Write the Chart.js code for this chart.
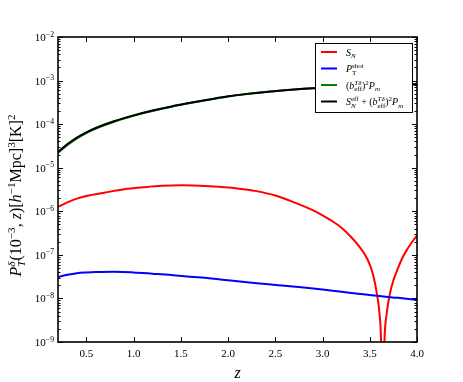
<!DOCTYPE html>
<html>
<head>
<meta charset="utf-8">
<script src="https://cdn.jsdelivr.net/npm/chart.js@4.4.0/dist/chart.umd.min.js"></script>
<style>
  html, body { margin: 0; padding: 0; background: #fff; }
  #wrap { width: 463px; height: 382px; }
</style>
</head>
<body>
<div id="wrap"><canvas id="myChart" width="463" height="382"></canvas></div>
<script>
// redshift grid for the smooth curves
const gridZ = [0.2, 0.3, 0.4, 0.5, 0.6, 0.8, 1.0, 1.2, 1.4, 1.6, 1.8, 2.0, 2.2, 2.4, 2.6, 2.8, 3.0, 3.2, 3.4, 3.6, 3.8, 4.0];
const totalP = [2.3e-5, 3.48e-5, 4.92e-5, 6.49e-5, 8.17e-5, 1.18e-4, 1.59e-4, 2.05e-4, 2.55e-4, 3.09e-4, 3.68e-4, 4.35e-4, 4.95e-4, 5.5e-4, 6.0e-4, 6.46e-4, 6.87e-4, 7.24e-4, 7.57e-4, 7.83e-4, 8.05e-4, 8.22e-4];
const cleanP = [2.17e-5, 3.32e-5, 4.72e-5, 6.26e-5, 7.92e-5, 1.15e-4, 1.56e-4, 2.01e-4, 2.51e-4, 3.05e-4, 3.64e-4, 4.32e-4, 4.92e-4, 5.48e-4, 5.98e-4, 6.45e-4, 6.86e-4, 7.24e-4, 7.57e-4, 7.83e-4, 8.05e-4, 8.22e-4];
const shotP = [3.1e-8, 3.5e-8, 3.8e-8, 3.95e-8, 4.05e-8, 4.1e-8, 3.95e-8, 3.7e-8, 3.45e-8, 3.15e-8, 2.9e-8, 2.6e-8, 2.35e-8, 2.15e-8, 1.95e-8, 1.78e-8, 1.6e-8, 1.42e-8, 1.27e-8, 1.13e-8, 1.03e-8, 9.3e-9];

// |S_N| goes through zero near z ~ 3.64, so it gets a finer grid
const redZ = [0.2, 0.3, 0.4, 0.5, 0.7, 0.9, 1.1, 1.3, 1.5, 1.7, 1.9, 2.1, 2.3, 2.5, 2.7, 2.9, 3.0, 3.1, 3.2, 3.3, 3.4, 3.45, 3.5, 3.54, 3.575, 3.6, 3.618, 3.636, 3.656, 3.68, 3.71, 3.75, 3.8, 3.85, 3.9, 3.95, 4.0];
const noiseS = [1.27e-6, 1.6e-6, 1.95e-6, 2.25e-6, 2.7e-6, 3.2e-6, 3.55e-6, 3.85e-6, 3.95e-6, 3.85e-6, 3.65e-6, 3.35e-6, 2.9e-6, 2.3e-6, 1.6e-6, 1.05e-6, 8.1e-7, 6.0e-7, 4.2e-7, 2.6e-7, 1.45e-7, 1.0e-7, 6.0e-8, 3.2e-8, 1.3e-8, 5.2e-9, 1.3e-9, 1e-11, 1.1e-9, 4.6e-9, 1.2e-8, 2.6e-8, 5e-8, 8.9e-8, 1.38e-7, 2.0e-7, 2.75e-7];

const xTicks = [0.5, 1.0, 1.5, 2.0, 2.5, 3.0, 3.5, 4.0];
const yTickExps = [-9, -8, -7, -6, -5, -4, -3, -2];

// rich text: [text, 'i'talic | 'r'oman, position]
const legendItems = [
    { color: '#ff0000', text: [['S', 'i'], ['N', 'i', 'sub']] },
    { color: '#0000ff', text: [['P', 'i'], ['T', 'r', 'sub'], ['shot', 'r', 'sup']] },
    { color: '#008000', text: [['(', 'r'], ['b', 'i'], ['eff', 'r', 'sub'], ['Tδ', 'i', 'sup'], [')', 'r'], ['2', 'r', 'sup'], ['P', 'i'], ['m', 'i', 'sub']] },
    { color: '#000000', text: [['S', 'i'], ['eff', 'r', 'sup'], ['N', 'i', 'sub'], [' + (', 'r'], ['b', 'i'], ['eff', 'r', 'sub'], ['Tδ', 'i', 'sup'], [')', 'r'], ['2', 'r', 'sup'], ['P', 'i'], ['m', 'i', 'sub']] }
];
const yTitle = [['P', 'i'], ['δ', 'i', 'sup'], ['T', 'i', 'sub'], ['(10', 'r'], ['−3', 'r', 'sup'], [', ', 'r'], ['z', 'i'], [')[', 'r'], ['h', 'i'], ['−1', 'r', 'sup'], ['Mpc]', 'r'], ['3', 'r', 'sup'], ['[K]', 'r'], ['2', 'r', 'sup']];
const xTitle = [['z', 'i']];

const FONT = '"Liberation Serif", "DejaVu Serif", serif';

function drawRich(ctx, segs, x, y, size, align) {
    const parts = [];
    let cx = 0, scriptStart = 0, lastPos = 'b';
    segs.forEach(([t, st, pos = 'b']) => {
        const fs = pos === 'b' ? size : size * 0.7;
        const font = (st === 'i' ? 'italic ' : '') + fs + 'px ' + FONT;
        ctx.font = font;
        const w = ctx.measureText(t).width;
        let sx;
        if (pos !== 'b' && lastPos !== 'b' && lastPos !== pos) {
            sx = scriptStart;
            cx = Math.max(cx, sx + w);
        } else {
            sx = cx;
            cx = sx + w;
            if (pos !== 'b') scriptStart = sx;
        }
        const dy = pos === 'sup' ? -size * 0.4 : pos === 'sub' ? size * 0.25 : 0;
        parts.push({ t, font, x: sx, dy });
        lastPos = pos;
    });
    const off = align === 'right' ? -cx : align === 'center' ? -cx / 2 : 0;
    ctx.fillStyle = '#000';
    ctx.textBaseline = 'alphabetic';
    ctx.textAlign = 'left';
    parts.forEach(p => {
        ctx.font = p.font;
        ctx.fillText(p.t, x + off + p.x, y + p.dy);
    });
}

const framePlugin = {
    id: 'frame',
    afterDatasetsDraw(chart) {
        const { ctx, chartArea: a, scales } = chart;
        const xs = scales.x, ys = scales.y;
        ctx.save();
        ctx.strokeStyle = '#000';

        // ticks pointing inwards on all four sides
        ctx.lineWidth = 1;
        ctx.beginPath();
        xTicks.forEach(v => {
            const px = Math.round(xs.getPixelForValue(v)) + 0.5;
            ctx.moveTo(px, a.bottom); ctx.lineTo(px, a.bottom - 5);
            ctx.moveTo(px, a.top); ctx.lineTo(px, a.top + 5);
        });
        yTickExps.forEach(e => {
            const py = Math.round(ys.getPixelForValue(Math.pow(10, e))) + 0.5;
            ctx.moveTo(a.left, py); ctx.lineTo(a.left + 5, py);
            ctx.moveTo(a.right, py); ctx.lineTo(a.right - 5, py);
            if (e < -2) {
                for (let m = 2; m <= 9; m++) {
                    const pm = Math.round(ys.getPixelForValue(m * Math.pow(10, e))) + 0.5;
                    ctx.moveTo(a.left, pm); ctx.lineTo(a.left + 2.5, pm);
                    ctx.moveTo(a.right, pm); ctx.lineTo(a.right - 2.5, pm);
                }
            }
        });
        ctx.stroke();

        ctx.lineWidth = 1.6;
        ctx.strokeRect(a.left, a.top, a.right - a.left, a.bottom - a.top);

        // tick labels
        xTicks.forEach(v => {
            ctx.font = '11px ' + FONT;
            ctx.fillStyle = '#000';
            ctx.textAlign = 'center';
            ctx.textBaseline = 'alphabetic';
            ctx.fillText(v.toFixed(1), xs.getPixelForValue(v), a.bottom + 15);
        });
        yTickExps.forEach(e => {
            const py = ys.getPixelForValue(Math.pow(10, e));
            drawRich(ctx, [['10', 'r'], ['−' + (-e), 'r', 'sup']], a.left - 4, py + 4, 11, 'right');
        });

        // axis titles
        drawRich(ctx, xTitle, (a.left + a.right) / 2, a.bottom + 36, 16, 'center');
        ctx.save();
        ctx.translate(21, (a.top + a.bottom) / 2 + 6);
        ctx.rotate(-Math.PI / 2);
        drawRich(ctx, yTitle, 0, 0, 16, 'center');
        ctx.restore();

        // legend
        const lx = 315, ly = 43, lw = 97, lh = 69;
        ctx.fillStyle = '#fff';
        ctx.fillRect(lx, ly, lw, lh);
        ctx.lineWidth = 1;
        ctx.strokeRect(lx + 0.5, ly + 0.5, lw, lh);
        legendItems.forEach((item, i) => {
            const y = ly + 9 + i * 16.5;
            ctx.strokeStyle = item.color;
            ctx.lineWidth = 2;
            ctx.beginPath();
            ctx.moveTo(lx + 6, y);
            ctx.lineTo(lx + 22, y);
            ctx.stroke();
            drawRich(ctx, item.text, lx + 31, y + 3.5, 10, 'left');
        });
        ctx.restore();
    }
};

function toPoints(zs, vals) {
    return zs.map((z, i) => ({ x: z, y: vals[i] }));
}

document.addEventListener('DOMContentLoaded', () => {
    const ctx = document.getElementById('myChart').getContext('2d');
    new Chart(ctx, {
        type: 'line',
        data: {
            datasets: [
                { label: 'S_N', data: toPoints(redZ, noiseS), borderColor: '#ff0000', order: 3 },
                { label: 'P_T^shot', data: toPoints(gridZ, shotP), borderColor: '#0000ff', order: 2 },
                { label: '(b_eff)^2 P_m', data: toPoints(gridZ, cleanP), borderColor: '#008000', order: 1 },
                { label: 'S_eff + (b_eff)^2 P_m', data: toPoints(gridZ, totalP), borderColor: '#000000', order: 0 }
            ]
        },
        options: {
            responsive: false,
            animation: false,
            layout: { padding: { left: 58, top: 37, right: 46, bottom: 40 } },
            elements: {
                point: { radius: 0 },
                line: { borderWidth: 2, cubicInterpolationMode: 'monotone', fill: false }
            },
            scales: {
                x: { type: 'linear', min: 0.2, max: 4.0, display: false },
                y: { type: 'logarithmic', min: 1e-9, max: 1e-2, display: false }
            },
            plugins: {
                legend: { display: false },
                tooltip: { enabled: false }
            }
        },
        plugins: [framePlugin]
    });
});
</script>
</body>
</html>
